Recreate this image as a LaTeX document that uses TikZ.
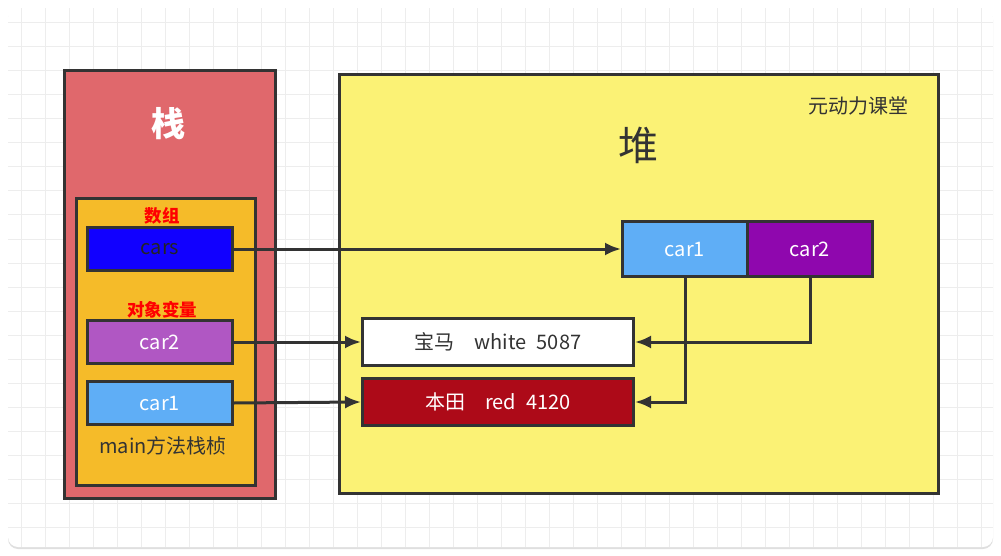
\documentclass[tikz,border=0pt]{standalone}
\usepackage{fontspec}
\usepackage{xcolor}
\usetikzlibrary{arrows.meta,shadows}
\newfontfamily\cjk{Noto Sans CJK SC}

\definecolor{gridline}{HTML}{EDEDED}
\definecolor{edgegray}{HTML}{333333}
\definecolor{stackred}{HTML}{E0686C}
\definecolor{frameorange}{HTML}{F5BB29}
\definecolor{heapyellow}{HTML}{FBF275}
\definecolor{arrblue}{HTML}{1100FF}
\definecolor{carblue}{HTML}{5FAEF6}
\definecolor{carpurple}{HTML}{B057C3}
\definecolor{cellpurple}{HTML}{8F07AE}
\definecolor{hondared}{HTML}{AD0A18}
\definecolor{txtdark}{HTML}{333333}

\tikzset{
  box/.style={draw=edgegray, line width=3pt},
  var/.style={box, minimum width=145pt, minimum height=43pt, inner sep=0pt,
    font=\cjk\fontsize{20}{24}\selectfont, text=white},
  obj/.style={box, minimum width=271pt, minimum height=47pt, inner sep=0pt,
    font=\cjk\fontsize{20}{24}\selectfont},
  cell/.style={box, minimum width=125pt, minimum height=55pt, inner sep=0pt,
    font=\cjk\fontsize{20}{24}\selectfont, text=white},
  tag/.style={text=red, font=\cjk\bfseries\fontsize{17.5}{20}\selectfont},
  ref/.style={draw=edgegray, line width=3pt, -{Latex[length=16pt,width=13pt]}},
}

\begin{document}
\begin{tikzpicture}[x=1pt, y=-1pt]
   \useasboundingbox (0,0) rectangle (1001,556);
   % card with grid
   \fill[white, rounded corners=10pt, drop shadow={opacity=0.25, shadow xshift=0pt, shadow yshift=-2pt}]
     (8,8) rectangle (993,547);
   \begin{scope}
     \clip[rounded corners=10pt] (8,8) rectangle (993,547);
     \foreach \x in {0,...,40} \draw[gridline, line width=1pt] (21+24*\x,8) -- (21+24*\x,547);
     \foreach \y in {0,...,22} \draw[gridline, line width=1pt] (8,23+24*\y) -- (993,23+24*\y);
   \end{scope}

   % stack side
   \node[box, fill=stackred, minimum width=211pt, minimum height=428pt, anchor=north west] (stack) at (63,69) {};
   \node[text=white, font=\cjk\bfseries\fontsize{34}{40}\selectfont] (stacktitle) at (168,124) {栈};
   \node[box, fill=frameorange, minimum width=179pt, minimum height=287pt, anchor=north west] (frame) at (75,197) {};
   \node[tag] (arrtag) at (162,216) {数组};
   \node[var, fill=arrblue, text=txtdark!70!black, anchor=north west] (cars) at (86,226) {cars};
   \node[tag] (objtag) at (162,310) {对象变量};
   \node[var, fill=carpurple, anchor=north west] (car2) at (86,319) {car2};
   \node[var, fill=carblue, anchor=north west] (car1) at (86,380) {car1};
   \node[text=txtdark, font=\cjk\fontsize{20}{24}\selectfont] (framelabel) at (163,446) {main方法栈桢};

   % heap side
   \node[box, fill=heapyellow, minimum width=599pt, minimum height=419pt, anchor=north west] (heap) at (338,73) {};
   \node[text=txtdark, font=\cjk\fontsize{40}{46}\selectfont] (heaptitle) at (638,145) {堆};
   \node[text=txtdark, font=\cjk\fontsize{20}{24}\selectfont] (brand) at (858,106) {元动力课堂};
   \node[cell, fill=carblue, anchor=north west] (cell1) at (621,220) {car1};
   \node[cell, fill=cellpurple, anchor=north west] (cell2) at (746,220) {car2};
   \node[obj, fill=white, text=txtdark, anchor=north west] (bmw) at (361,317) {宝马\hspace{1em}white\hspace{0.5em}5087};
   \node[obj, fill=hondared, text=white, anchor=north west] (honda) at (361,377) {本田\hspace{1em}red\hspace{0.5em}4120};

   % references
   \draw[ref] (cars.east) -- (cell1.west);
   \draw[ref] (car2.east) -- (bmw.west);
   \draw[ref] (car1.east) -- (honda.west);
   \draw[ref] (cell1.south) |- (honda.east);
   \draw[ref] (cell2.south) |- (bmw.east);
\end{tikzpicture}
\end{document}
